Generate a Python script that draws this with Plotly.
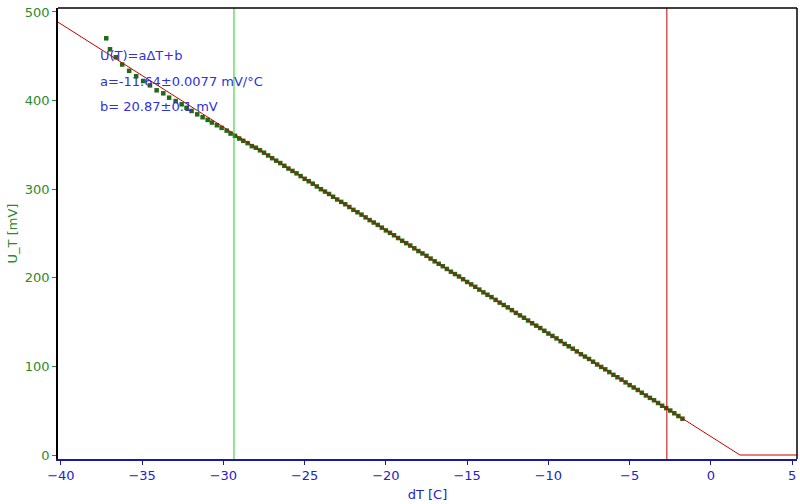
import plotly.graph_objects as go

# measured points (dT [C], U_T [mV])
dT_early = [-37.21, -36.98, -36.62, -36.23, -35.80, -35.37, -34.94, -34.52, -34.11, -33.70,
            -33.34, -32.94, -32.57, -32.27, -31.96, -31.61, -31.28, -30.97, -30.71, -30.40,
            -30.11, -29.80, -29.56, -29.29, -29.03, -28.78, -28.51, -28.25]
U_early = [470.3, 457.9, 448.9, 440.7, 433.6, 427.5, 422.1, 417.2, 411.6, 408.2,
           403.3, 399.5, 395.8, 391.8, 388.3, 384.5, 381.2, 378.2, 375.2, 372.2,
           369.2, 366.1, 362.8, 360.2, 357.2, 354.6, 352.0, 348.6]

dT_main = [-28.0, -27.75, -27.5, -27.25, -27.0, -26.75, -26.5, -26.25, -26.0, -25.75,
           -25.5, -25.25, -25.0, -24.75, -24.5, -24.25, -24.0, -23.75, -23.5, -23.25,
           -23.0, -22.75, -22.5, -22.25, -22.0, -21.75, -21.5, -21.25, -21.0, -20.75,
           -20.5, -20.25, -20.0, -19.75, -19.5, -19.25, -19.0, -18.75, -18.5, -18.25,
           -18.0, -17.75, -17.5, -17.25, -17.0, -16.75, -16.5, -16.25, -16.0, -15.75,
           -15.5, -15.25, -15.0, -14.75, -14.5, -14.25, -14.0, -13.75, -13.5, -13.25,
           -13.0, -12.75, -12.5, -12.25, -12.0, -11.75, -11.5, -11.25, -11.0, -10.75,
           -10.5, -10.25, -10.0, -9.75, -9.5, -9.25, -9.0, -8.75, -8.5, -8.25,
           -8.0, -7.75, -7.5, -7.25, -7.0, -6.75, -6.5, -6.25, -6.0, -5.75,
           -5.5, -5.25, -5.0, -4.75, -4.5, -4.25, -4.0, -3.75, -3.5, -3.25,
           -3.0, -2.75, -2.5, -2.25, -2.0, -1.75]
U_main = [346.8, 343.9, 341.2, 338.1, 335.0, 332.2, 329.5, 326.4, 323.3, 320.6,
          317.9, 314.8, 311.7, 309.0, 306.2, 303.1, 300.0, 297.3, 294.6, 291.5,
          288.4, 285.7, 283.0, 279.9, 276.7, 274.0, 271.3, 268.2, 265.1, 262.4,
          259.7, 256.6, 253.5, 250.8, 248.0, 244.9, 241.8, 239.1, 236.4, 233.3,
          230.2, 227.5, 224.8, 221.7, 218.6, 215.8, 213.1, 210.0, 206.9, 204.2,
          201.5, 198.4, 195.3, 192.6, 189.8, 186.7, 183.6, 180.9, 178.2, 175.1,
          172.0, 169.3, 166.6, 163.5, 160.4, 157.6, 154.9, 151.8, 148.7, 146.0,
          143.3, 140.2, 137.1, 134.4, 131.6, 128.5, 125.4, 122.7, 120.0, 116.9,
          113.8, 111.1, 108.4, 105.3, 102.2, 99.4, 96.7, 93.6, 90.5, 87.8,
          85.1, 82.0, 78.9, 76.2, 73.4, 70.3, 67.2, 64.5, 61.8, 58.7,
          55.6, 52.9, 50.2, 47.1, 44.0, 41.0]

# fitted line (U = a*dT + b, clipped at 0)
fit_x = [-40.2, 1.79, 5.3]
fit_y = [488.8, 0.0, 0.0]

# cursor positions
cursor_green = -29.35
cursor_red = -2.71

fit_text = ["U(T)=aΔT+b", "a=-11.64±0.0077 mV/°C", "b= 20.87±0.1 mV"]

x_ticks = [-40, -35, -30, -25, -20, -15, -10, -5, 0, 5]
y_ticks = [0, 100, 200, 300, 400, 500]

GREEN_TXT = "#2b8a2b"
BLUE_TXT = "#2323c8"
FONT = "DejaVu Sans"

fig = go.Figure()
fig.add_trace(go.Scatter(x=dT_early + dT_main, y=U_early + U_main, mode="markers",
                         marker=dict(symbol="square", size=4.5, color="#1f6a12", line=dict(width=0)),
                         showlegend=False, hoverinfo="skip"))
fig.add_trace(go.Scatter(x=fit_x, y=fit_y, mode="lines",
                         line=dict(color="#c80000", width=1), showlegend=False, hoverinfo="skip"))

fig.add_shape(type="line", xref="x", yref="paper", x0=cursor_green, x1=cursor_green, y0=0, y1=1,
              line=dict(color="#22cc22", width=1))
fig.add_shape(type="line", xref="x", yref="paper", x0=cursor_red, x1=cursor_red, y0=0, y1=1,
              line=dict(color="#c80000", width=1))
# frame top and right
fig.add_shape(type="line", xref="paper", yref="paper", x0=0, x1=1, y0=1, y1=1,
              line=dict(color="black", width=1.5))
fig.add_shape(type="line", xref="paper", yref="paper", x0=1, x1=1, y0=0, y1=1,
              line=dict(color="black", width=1.5))

for i, t in enumerate(fit_text):
    fig.add_annotation(x=-37.72, y=450.5 - i * 28.7, xref="x", yref="y", text=t, showarrow=False,
                       xanchor="left", yanchor="middle",
                       font=dict(family=FONT, size=13, color="#3030dd"))

fig.update_layout(
    width=800, height=504,
    margin=dict(l=58, r=3, t=8, b=45),
    paper_bgcolor="white", plot_bgcolor="white",
    font=dict(family=FONT, size=13),
    xaxis=dict(range=[-40.18, 5.3], tickvals=x_ticks, showgrid=False, zeroline=False,
               showline=True, linecolor="#1a1aa0", linewidth=1.5,
               ticks="outside", ticklen=4, tickcolor="#1a1aa0",
               tickfont=dict(family=FONT, size=13, color=BLUE_TXT),
               title=dict(text="dT [C]", font=dict(family=FONT, size=13, color=BLUE_TXT), standoff=8)),
    yaxis=dict(range=[-4.5, 504.5], tickvals=y_ticks, showgrid=False, zeroline=False,
               showline=True, linecolor="black", linewidth=1.5,
               ticks="outside", ticklen=4, tickcolor=GREEN_TXT,
               tickfont=dict(family=FONT, size=13, color=GREEN_TXT),
               title=dict(text="U_T [mV]", font=dict(family=FONT, size=13, color=GREEN_TXT), standoff=4)),
)

fig.write_html("out.html", config={"displayModeBar": False},
               post_script="document.body.style.margin='0';document.body.style.padding='0';")
